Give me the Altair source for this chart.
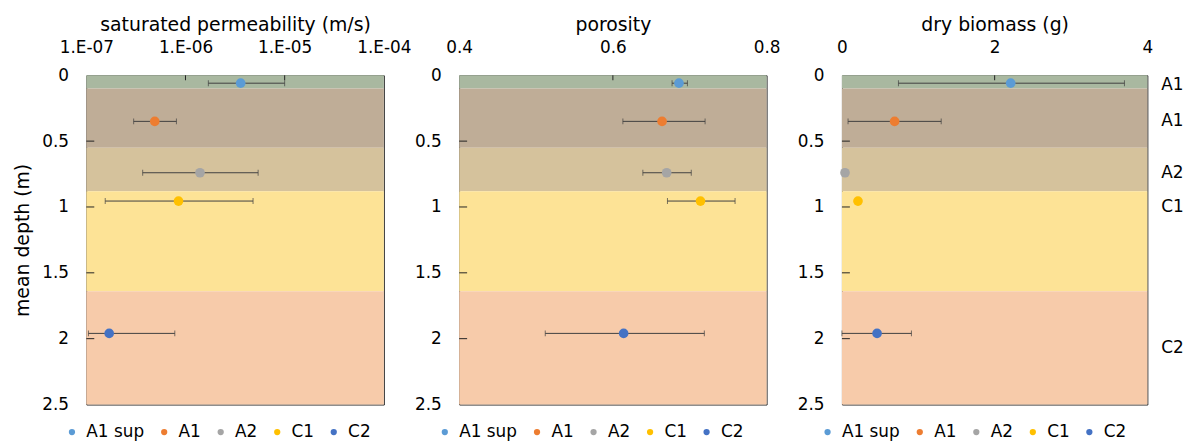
import altair as alt
import pandas as pd

horizons = ["A1 sup", "A1", "A2", "C1", "C2"]
depth = [0.06, 0.35, 0.74, 0.955, 1.96]

band_top = [0.0, 0.10, 0.55, 0.88, 1.64]
band_bottom = [0.10, 0.55, 0.88, 1.64, 2.5]

ksat = [3.6e-6, 4.9e-7, 1.4e-6, 8.5e-7, 1.7e-7]
ksat_lo = [1.7e-6, 3.0e-7, 3.7e-7, 1.55e-7, 1.05e-7]
ksat_hi = [1.0e-5, 8.1e-7, 5.4e-6, 4.8e-6, 7.8e-7]

porosity = [0.686, 0.664, 0.670, 0.714, 0.614]
por_lo = [0.677, 0.613, 0.639, 0.671, 0.512]
por_hi = [0.697, 0.720, 0.702, 0.759, 0.719]

biomass = [2.21, 0.69, 0.04, 0.21, 0.46]
bio_lo = [0.74, 0.08, None, None, 0.0]
bio_hi = [3.70, 1.30, None, None, 0.91]

side_labels = ["A1", "A1", "A2", "C1", "C2"]
side_depth = [0.075, 0.35, 0.74, 1.0, 2.07]

y_ticks = [0, 0.5, 1, 1.5, 2, 2.5]
y_inner_ticks = [0.5, 1, 1.5, 2]

point_colors = ["#5B9BD5", "#ED7D31", "#A5A5A5", "#FFC000", "#4472C4"]
band_colors = ["#A9B8A0", "#BFAD97", "#D5C29C", "#FDE396", "#F7CBAA"]

FONT = "DejaVu Sans"
FS = 17
TFS = 19
H = 332

pts = pd.DataFrame({
    "horizon": horizons, "depth": depth,
    "ksat": ksat, "ksat_lo": ksat_lo, "ksat_hi": ksat_hi,
    "por": porosity, "por_lo": por_lo, "por_hi": por_hi,
    "bio": biomass, "bio_lo": bio_lo, "bio_hi": bio_hi,
})
bands = pd.DataFrame({"band": horizons, "top": band_top, "bottom": band_bottom})
sides = pd.DataFrame({"label": side_labels, "d": side_depth})

yscale = alt.Scale(domain=[0, 2.5], reverse=True, nice=False, zero=False)


def panel(field, title, xscale, xticks, inner_xticks, width, fmt=None, expr=None,
          ytitle=None, right_labels=False):
    yaxis = alt.Axis(values=y_ticks, title=ytitle, labelPadding=18, labelFlush=False,
                     format="~g", titlePadding=9, titleFontSize=TFS, labelFontSize=FS)
    xaxis_kw = dict(values=xticks, orient="top", title=title, labelPadding=19,
                    labelFlush=False, titlePadding=4, titleFontSize=TFS, labelFontSize=FS)
    if fmt:
        xaxis_kw["format"] = fmt
    if expr:
        xaxis_kw["labelExpr"] = expr
    xaxis = alt.Axis(**xaxis_kw)

    def Y(f):
        return alt.Y(f, type="quantitative", scale=yscale, axis=yaxis)

    def X(f):
        return alt.X(f, type="quantitative", scale=xscale, axis=xaxis)

    band_layer = alt.Chart(bands).mark_rect().encode(
        y=Y("top"), y2="bottom",
        x=alt.value(0), x2=alt.value(width),
        fill=alt.Fill("band:N", scale=alt.Scale(domain=horizons, range=band_colors), legend=None),
    )
    xt = alt.Chart(pd.DataFrame({"v": inner_xticks})).mark_rule(color="#222", strokeWidth=1).encode(
        x=X("v"), y=alt.value(0), y2=alt.value(5))
    yt = alt.Chart(pd.DataFrame({"v": y_inner_ticks})).mark_rule(color="#222", strokeWidth=1).encode(
        y=Y("v"), x=alt.value(0), x2=alt.value(8))

    base = alt.Chart(pts).transform_filter(f"isValid(datum.{field}_lo)")
    err = base.mark_rule(color="#404040", strokeWidth=1).encode(
        x=X(field + "_lo"), x2=field + "_hi", y=Y("depth"))
    cap_lo = base.mark_tick(orient="vertical", size=6, thickness=1, color="#404040").encode(
        x=X(field + "_lo"), y=Y("depth"))
    cap_hi = base.mark_tick(orient="vertical", size=6, thickness=1, color="#404040").encode(
        x=X(field + "_hi"), y=Y("depth"))
    points = alt.Chart(pts).mark_circle(size=95, opacity=1).encode(
        x=X(field), y=Y("depth"),
        color=alt.Color("horizon:N", scale=alt.Scale(domain=horizons, range=point_colors),
                        legend=alt.Legend(title=None, orient="none", legendX=-23, legendY=H + 19,
                                          direction="horizontal", symbolType="circle",
                                          symbolSize=40, labelFontSize=FS, labelFont=FONT,
                                          columnPadding=11, labelOffset=6)),
    )
    layers = [band_layer, xt, yt, err, cap_lo, cap_hi, points]
    if right_labels:
        txt = alt.Chart(sides).mark_text(align="left", baseline="middle", fontSize=FS, font=FONT,
                                         color="black").encode(
            y=Y("d"), x=alt.value(width + 14), text="label:N")
        layers.append(txt)
    return alt.layer(*layers).properties(width=width, height=H)


p1 = panel("ksat", "saturated permeability (m/s)",
           alt.Scale(type="log", domain=[1e-7, 1e-4], nice=False),
           [1e-7, 1e-6, 1e-5, 1e-4], [1e-6, 1e-5], 300,
           expr="'1.E-0' + (-round(log(datum.value)/LN10))",
           ytitle="mean depth (m)")
p2 = panel("por", "porosity", alt.Scale(domain=[0.4, 0.8], nice=False, zero=False),
           [0.4, 0.6, 0.8], [0.6], 310, fmt=".1f")
p3 = panel("bio", "dry biomass (g)", alt.Scale(domain=[0, 4], nice=False),
           [0, 2, 4], [2], 308, fmt="d", right_labels=True)

chart = alt.hconcat(p1, p2, p3, spacing=76, bounds="flush").resolve_legend(
    color="independent").resolve_scale(color="independent").configure_view(
    stroke="#1a1a1a", strokeWidth=1).configure_axis(
    grid=False, ticks=False, domain=False, labelFont=FONT, titleFont=FONT,
    labelColor="black", titleColor="black", titleFontWeight="normal").configure_legend(
    labelColor="black")

chart.save("out.html", embed_options={"renderer": "svg", "actions": False})
